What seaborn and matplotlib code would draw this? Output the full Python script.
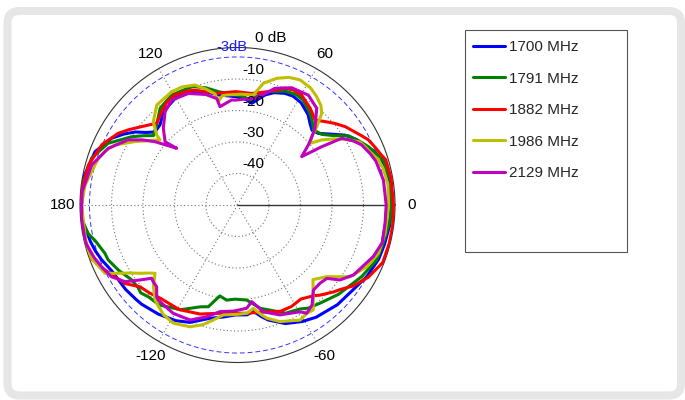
import numpy as np
import pandas as pd
import matplotlib
matplotlib.use('Agg')
import matplotlib.pyplot as plt
import seaborn as sns
from matplotlib.patches import FancyBboxPatch, Rectangle
from matplotlib.transforms import IdentityTransform

freqs = ['1700 MHz', '1791 MHz', '1882 MHz', '1986 MHz', '2129 MHz']
colors = ['#0000ff', '#008000', '#ff0000', '#bfbf00', '#bf00bf']

# angles in degrees, gain in dB
blue_deg = [-180, -175, -166, -162, -158, -152, -147, -143, -137, -134, -126, -118, -112, -104, -97,
            -91, -85, -81.5, -78, -75, -68, -61, -55, -45, -37, -29, -21, -15, -7, 0,
            9, 17, 21, 25, 29, 33, 37.5, 41.5, 45, 48, 52, 58, 63, 67, 72, 76, 82, 86, 91,
            100, 106, 112, 120, 128.5, 134, 138.5, 141.5, 144.5, 148, 152, 159.5, 170, 180]
blue_db = [-0.5, -0.4, -1.9, -2.6, -3.5, -5.0, -5.4, -5.5, -6.0, -6.2, -7.2, -8.4, -9.8, -12.9, -14.2,
           -15.1, -15.0, -15.9, -13.8, -12.2, -9.4, -7.7, -6.5, -5.2, -4.6, -3.1, -2.0, -1.7, -1.2, -1.2,
           -1.2, -2.1, -3.2, -5.3, -7.0, -9.3, -13.0, -15.7, -16.5, -15.5, -13.6, -11.8, -11.2, -11.5,
           -12.5, -14.0, -17.4, -16.2, -15.6,
           -14.5, -12.5, -11.2, -10.7, -12.2, -14.6, -15.0, -13.0, -10.1, -7.5, -4.8, -1.7, -0.3, -0.5]

green_deg = [-180, -174.5, -169, -166, -160, -157, -151, -145, -140.5, -137.8, -134, -128, -118.5,
             -110, -106, -101, -96.5, -91.5, -84.5, -77.5, -68, -66, -59, -55.6, -50, -41.5, -30,
             -21.6, -14.7, -7, 0,
             9, 17, 24, 28, 32, 36, 40, 44.7, 48, 51.7, 57.9, 62, 67.4, 74.8, 79, 83, 87, 91,
             99.6, 105, 111, 121, 128.7, 135.3, 140.5, 143.5, 147.2, 154.5, 162, 172.7, 180]
green_db = [0, -0.3, -1.8, -3.4, -5.2, -5.4, -7.0, -8.8, -9.0, -8.5, -9.4, -9.7, -12.2,
            -15.6, -16.4, -20.6, -19.6, -20.1, -19.7, -16.4, -13.3, -12.4, -11.5, -10.3, -9.3, -7.2, -4.5,
            -2.5, -2.2, -1.5, -1.0,
            -0.7, -1.6, -4.5, -6.5, -8.5, -12.5, -15.1, -16.1, -14.5, -12.9, -10.7, -10.3, -10.8,
            -12.7, -14.5, -16.4, -15.5, -15.1,
            -13.5, -11.5, -9.7, -9.3, -10.7, -13.9, -15.4, -13.0, -10.0, -4.5, -1.4, -0.1, 0]

red_deg = [-180, -170, -160, -154, -149.5, -145, -140, -135, -129.5, -119, -109, -99, -85, -75,
           -68, -62, -56, -50, -47.5, -42, -39.5, -35, -29, -21.6, -14, -7, 0,
           10, 17, 19, 23, 26.5, 29, 36, 40, 43.6, 47.6, 50, 53, 59.7, 64, 68, 74.8, 82.8, 91,
           100, 106, 111.7, 119.6, 125, 129, 134.7, 137, 140.7, 145, 149, 156, 165, 176, 180]
red_db = [-0.3, -0.2, -0.5, -3.1, -5.0, -6.5, -9.6, -10.5, -11.6, -12.0, -13.4, -15.2, -15.5, -14.9,
          -13.6, -13.5, -14.0, -12.4, -11.2, -8.8, -7.8, -5.2, -2.6, -0.4, -0.3, -0.3, -0.5,
          -0.5, -0.8, -1.6, -2.7, -3.6, -4.8, -7.7, -9.7, -11.6, -13.5, -12.7, -11.6, -9.6, -9.4,
          -10.0, -12.7, -14.3, -14.0,
          -14.0, -12.5, -10.7, -9.8, -10.5, -11.8, -13.5, -12.5, -10.7, -8.2, -5.8, -2.9, -1.0, -0.1, -0.3]

yellow_deg = [-180, -166, -160, -152.7, -149.8, -147.7, -145, -142.5, -140.4, -138, -135.9, -131,
              -129.4, -124, -118.5, -111.3, -106, -101.9, -97.4, -90, -85, -81.3, -78, -75.5, -70,
              -63, -61.5, -57, -54.2, -50, -44.7, -38.8, -35, -32.5, -25.5, -18.9, -10.9, 0,
              8, 14, 18, 20.3, 24, 27.2, 31.5, 34.5, 37.7, 40.4, 42.6, 44.7, 47.4, 50, 53.8, 58,
              63.4, 68, 72.8, 78, 81.8, 88, 95.6, 98, 100.3, 101.5, 105, 109.5, 115, 120, 128.9,
              135.3, 139.1, 140, 142.5, 145.3, 148.3, 153.9, 157.5, 161.5, 172.5, 180]
yellow_db = [-0.5, -0.4, -0.6, -2.7, -6.9, -9.6, -12.2, -14.5, -16.0, -14.5, -12.8, -10.1,
             -9.6, -8.0, -7.3, -8.5, -10.5, -12.7, -14.8, -15.3, -15.5, -16.8, -14.5, -12.9, -10.6,
             -8.9, -8.4, -9.2, -8.9, -12.6, -16.3, -13.7, -10.3, -7.6, -4.5, -2.7, -2.3, -2.0,
             -1.8, -2.3, -3.0, -4.2, -5.3, -6.3, -10.0, -13.0, -16.2, -19.8, -18.0, -14.6, -10.5,
             -8.8, -7.4, -6.2, -5.6, -6.3, -7.9, -10.5, -14.7, -14.8, -14.9, -15.0, -16.5, -14.0,
             -12.0, -9.6, -8.6, -8.4, -9.2, -12.4, -16.1, -17.9, -16.2, -14.3, -11.7, -6.7, -4.8,
             -3.4, -1.2, -0.5]

magenta_deg = [-180, -175, -166, -160, -155, -150.3, -145.7, -142.4, -139.5, -137.7, -134.7, -131.4,
               -129.8, -120.7, -112.4, -105.4, -99.3, -92, -84.9, -81.6, -76.4, -68.9, -59.6, -57.4,
               -53.3, -48.3, -43.5, -39.4, -36.2, -31.1, -20.8, -14.6, -7, 0,
               9.6, 17.5, 21, 25.8, 29, 32.6, 34.7, 37, 40.3, 42.5, 44.7, 50.7, 57.2, 65.2, 72.2,
               76, 80.7, 86, 91.4, 93.2, 100.1, 101, 106, 113.8, 122.1, 127.8, 134, 138.9, 137,
               142.5, 145.5, 149.2, 156.3, 164.7, 175, 180]
magenta_db = [-0.5, -0.3, -0.3, -1.5, -2.7, -4.0, -6.8, -11.0, -14.2, -13.8, -13.5, -11.2,
              -10.7, -10.0, -10.5, -13.2, -15.7, -16.3, -17.1, -19.0, -15.1, -12.6, -10.7, -9.2,
              -10.4, -13.8, -13.9, -13.3, -9.7, -7.0, -3.9, -2.5, -2.8, -2.8,
              -3.0, -3.9, -4.8, -6.2, -8.0, -10.7, -17.5, -24.5, -20.5, -18.0, -15.4, -10.3, -8.5,
              -9.0, -11.1, -13.5, -15.7, -16.3, -16.7, -16.6, -18.3, -15.6, -13.5, -11.3, -10.7,
              -12.5, -16.1, -19.5, -23.6, -17.0, -13.5, -9.6, -5.2, -2.0, -0.5, -0.5]

rings = [-40, -30, -20, -10]
spoke_deg = [60, 120, 180, 240, 300]
angle_labels = {0: '0', 60: '60', 120: '120', 180: '180', -120: '-120', -60: '-60'}

series = [(blue_deg, blue_db), (green_deg, green_db), (red_deg, red_db),
          (yellow_deg, yellow_db), (magenta_deg, magenta_db)]
frames = []
for name, (deg, db) in zip(freqs, series):
    frames.append(pd.DataFrame({'theta': np.deg2rad(deg), 'gain': db, 'freq': name}))
df = pd.concat(frames, ignore_index=True)

sns.set_theme(style='white')
plt.rcParams['font.family'] = ['Liberation Sans', 'DejaVu Sans']

fig = plt.figure(figsize=(6.85, 4.0), dpi=100)

# light grey rounded frame
frame = FancyBboxPatch((7.5, 4.5), 673.5, 384.5, boxstyle='round,pad=0,rounding_size=12',
                       transform=IdentityTransform(), facecolor='white',
                       edgecolor='#e6e6e6', lw=5.8, zorder=0)
fig.add_artist(frame)

ax = fig.add_axes([80 / 685, 37.5 / 400, 315 / 685, 315 / 400], projection='polar')
ax.set_facecolor('none')
ax.set_theta_zero_location('E')
ax.set_ylim(-50, 0)
ax.grid(False)
ax.set_xticks([])
ax.set_yticks([])
ax.spines['polar'].set_color('#333333')
ax.spines['polar'].set_linewidth(0.8)
ax.spines['polar'].set_zorder(0.5)

full = np.linspace(0, 2 * np.pi, 721)
for r in rings:
    ax.plot(full, np.full_like(full, r), ls=(0, (1, 2.2)), color='0.45', lw=0.8, zorder=1)
ax.plot(full, np.full_like(full, -3), ls=(0, (5, 3)), color='#3333ff', lw=0.7, zorder=1)
for a in spoke_deg:
    t = np.deg2rad(a)
    ax.plot([t, t], [-50, 0], ls=(0, (1, 2.2)), color='0.45', lw=0.8, zorder=1)
ax.plot([0, 0], [-50, 0], color='#333333', lw=1.0, zorder=1)

sns.lineplot(data=df, x='theta', y='gain', hue='freq', palette=dict(zip(freqs, colors)),
             sort=False, estimator=None, lw=2.2, ax=ax, legend=True, zorder=3)
handles, labels = ax.get_legend_handles_labels()
ax.get_legend().remove()
ax.set_xlabel('')
ax.set_ylabel('')

for a, lab in angle_labels.items():
    ax.text(np.deg2rad(a), 5.4, lab, ha='center', va='center', fontsize=11, color='black')

for r in rings:
    ax.annotate(str(r), xy=(np.pi / 2, r), xytext=(4.5, 9), textcoords='offset pixels',
                ha='left', va='center', fontsize=11, color='black', zorder=6)
ax.annotate('0 dB', xy=(np.pi / 2, 0), xytext=(17.5, 9.5), textcoords='offset pixels',
            ha='left', va='center', fontsize=11, color='black', zorder=6)
ax.annotate('-3dB', xy=(np.pi / 2, -3), xytext=(-5.5, 10), textcoords='offset pixels',
            ha='center', va='center', fontsize=10.5, color='#1a1aff', zorder=6)

# legend box
fig.add_artist(Rectangle((465 / 685, 148 / 400), 162 / 685, 222 / 400, transform=fig.transFigure,
                         fill=False, edgecolor='#555555', lw=0.8))
fig.legend(handles, labels, loc='upper left', bbox_to_anchor=(473 / 685, 360 / 400),
           frameon=False, borderpad=0, borderaxespad=0, fontsize=11, handlelength=2.1,
           handletextpad=0.26, labelspacing=1.15)

fig.savefig('out.png', dpi=100, facecolor='white')
